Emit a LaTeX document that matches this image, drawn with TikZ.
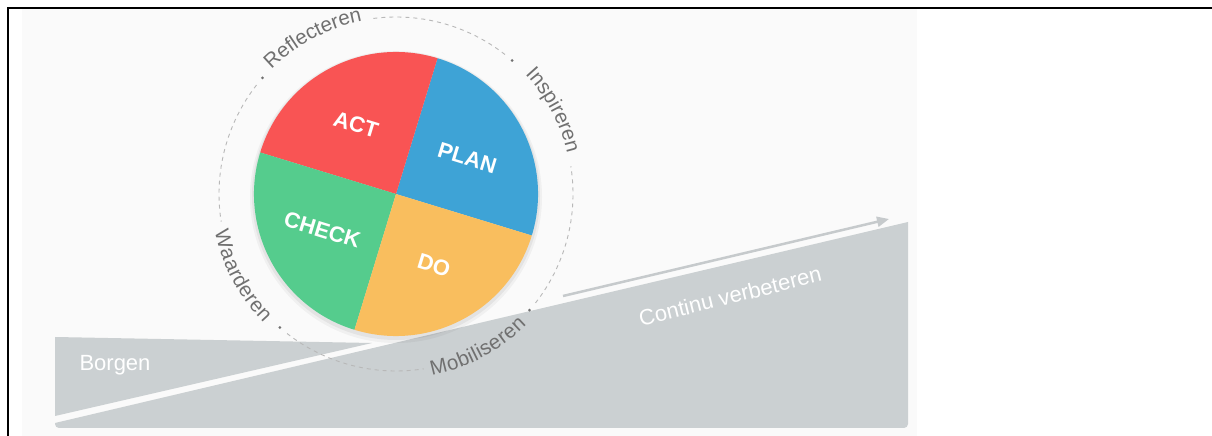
\documentclass[tikz,border=0pt]{standalone}
\usepackage{fontspec}
\setmainfont{Liberation Sans}
\usetikzlibrary{arrows.meta,decorations.text}

\definecolor{panelbg}{HTML}{FAFAFA}
\definecolor{ground}{HTML}{CBD0D2}
\definecolor{climbgray}{HTML}{C6CACC}
\definecolor{planblue}{HTML}{3EA3D6}
\definecolor{actred}{HTML}{F95454}
\definecolor{checkgreen}{HTML}{55CC8D}
\definecolor{doorange}{HTML}{F9BE5E}
\definecolor{ringgray}{HTML}{B8B8B8}
\definecolor{labelgray}{HTML}{707070}

\newcommand\ringfont{\color{labelgray}\fontsize{20.5}{24}\selectfont}

\begin{document}
\begin{tikzpicture}[x=1pt,y=1pt]
	\tikzstyle{phase}=[font=\fontsize{22}{26}\selectfont\bfseries, text=white, rotate=-17]
	\tikzstyle{groundtext}=[font=\fontsize{22}{26}\selectfont, text=white]
	\tikzstyle{ring}=[draw=ringgray, line width=0.9pt, dash pattern=on 4pt off 4pt]
	\tikzstyle{stop}=[circle, fill=labelgray, inner sep=0pt, minimum size=3pt]
	\tikzstyle{cw}=[decorate, decoration={text along path, text align=center, raise=-1pt}]
	\tikzstyle{ccw}=[decorate, decoration={text along path, text align=center, raise=-8pt}]

	\useasboundingbox (0,0) rectangle (1212,436);

	% frame and panel
	\draw[line width=2pt] (8,0) -- (8,427.5) -- (1212,427.5);
	\fill[panelbg] (22,0) rectangle (917,427);

	% the slope
	\fill[ground] (55,20) -- (55,99) -- (372,93) -- cycle;
	\fill[ground] (908,214) -- (55,13) [rounded corners=4pt] -- (55,8) -- (908,8) [sharp corners] -- cycle;

	\node[groundtext] (borgen) at (115,71) {Borgen};
	\node[groundtext, rotate=14] (verbeteren) at (730,140) {Continu verbeteren};

	\coordinate (climbstart) at (563,140);
	\coordinate (climbend) at (889,217);
	\draw[climbgray, line width=2.5pt, -{Triangle[length=12pt,width=10pt]}] (climbstart) -- (climbend);

	% dashed ring with its four labels
	\coordinate (hub) at (396,242);
	\draw[ring] ([shift={(52:177)}]hub) arc[start angle=52, end angle=98, radius=177];
	\draw[ring] ([shift={(142:177)}]hub) arc[start angle=142, end angle=189, radius=177];
	\draw[ring] ([shift={(232:177)}]hub) arc[start angle=232, end angle=279, radius=177];
	\draw[ring] ([shift={(322:177)}]hub) arc[start angle=322, end angle=369, radius=177];

	\node[stop] (stopinsp) at ([shift={(49:177)}]hub) {};
	\node[stop] (stoprefl) at ([shift={(139:177)}]hub) {};
	\node[stop] (stopwaard) at ([shift={(229:177)}]hub) {};
	\node[stop] (stopmob) at ([shift={(319:177)}]hub) {};

	\path[cw, decoration={text={|\ringfont|Reflecteren}}] ([shift={(140:177)}]hub) arc[start angle=140, end angle=96, radius=177];
	\path[cw, decoration={text={|\ringfont|Inspireren}}] ([shift={(50:177)}]hub) arc[start angle=50, end angle=6, radius=177];
	\path[ccw, decoration={text={|\ringfont|Waarderen}}] ([shift={(186:177)}]hub) arc[start angle=186, end angle=230, radius=177];
	\path[ccw, decoration={text={|\ringfont|Mobiliseren}}] ([shift={(276:177)}]hub) arc[start angle=276, end angle=320, radius=177];

	% the wheel
	\fill[black, opacity=0.04] (396,239) circle (146);
	\fill[black, opacity=0.05] (396,240) circle (144);
	\fill[planblue] (hub) -- ([shift={(-17:142)}]hub) arc[start angle=-17, end angle=73, radius=142] -- cycle;
	\fill[actred] (hub) -- ([shift={(73:142)}]hub) arc[start angle=73, end angle=163, radius=142] -- cycle;
	\fill[checkgreen] (hub) -- ([shift={(163:142)}]hub) arc[start angle=163, end angle=253, radius=142] -- cycle;
	\fill[doorange] (hub) -- ([shift={(253:142)}]hub) arc[start angle=253, end angle=343, radius=142] -- cycle;

	\node[phase] (plan) at ([shift={(27:80)}]hub) {PLAN};
	\node[phase] (act) at ([shift={(120:80)}]hub) {ACT};
	\node[phase] (check) at ([shift={(206:82)}]hub) {CHECK};
	\node[phase] (do) at ([shift={(298:81)}]hub) {DO};

\end{tikzpicture}
\end{document}
